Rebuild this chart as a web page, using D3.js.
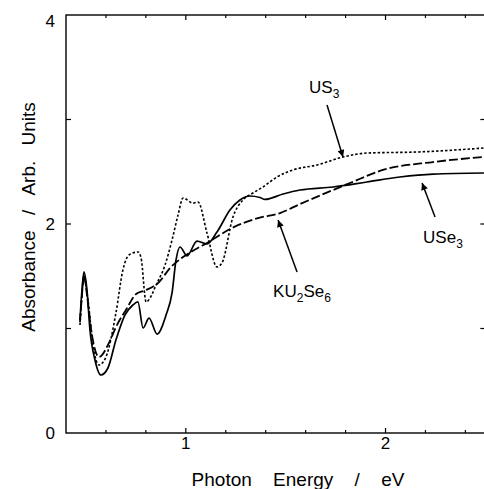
<!DOCTYPE html>
<html lang="en">
<head>
    <meta charset="UTF-8">
    <title>absorbance-spectra</title>
    <script src="https://cdn.jsdelivr.net/npm/d3@7/dist/d3.min.js"></script>
    <style>
        body{
            margin: 0;
            background: #fff;
        }
        svg text{
            font-family: "Liberation Sans", Arial, sans-serif;
            fill: #000;
        }
        .frame{
            fill: none;
            stroke: #000;
            stroke-width: 1.4;
        }
    </style>
</head>
<body>
<svg class="graph"></svg>
</body>
<script>
    var width = 484;
    var height = 489;

    // photon energy (eV) / absorbance pairs
    var use3_E = [0.470, 0.480, 0.490, 0.505, 0.520, 0.545, 0.575, 0.610, 0.650, 0.695, 0.735, 0.760, 0.786, 0.816,
        0.856, 0.901, 0.931, 0.951, 0.971, 1.006, 1.056, 1.106, 1.156, 1.221, 1.271, 1.321, 1.371, 1.396,
        1.487, 1.572, 1.737, 1.907, 2.072, 2.238, 2.493];
    var use3_A = [1.081, 1.368, 1.541, 1.368, 0.986, 0.699, 0.555, 0.622, 0.890, 1.129, 1.225, 1.254, 1.005, 1.100,
        0.947, 1.129, 1.340, 1.656, 1.780, 1.694, 1.837, 1.809, 1.923, 2.134, 2.230, 2.268, 2.254, 2.235,
        2.287, 2.325, 2.354, 2.402, 2.450, 2.478, 2.488];

    var ku2se6_E = [0.470, 0.480, 0.490, 0.505, 0.530, 0.565, 0.615, 0.650, 0.700, 0.751, 0.801, 0.866, 0.921,
        0.986, 1.051, 1.106, 1.221, 1.361, 1.472, 1.572, 1.737, 1.822, 1.987, 2.238, 2.493];
    var ku2se6_A = [1.062, 1.321, 1.512, 1.321, 0.938, 0.727, 0.861, 1.014, 1.177, 1.330, 1.368, 1.445, 1.579,
        1.684, 1.761, 1.818, 1.952, 2.057, 2.105, 2.191, 2.325, 2.392, 2.517, 2.593, 2.641];

    var us3_E = [0.470, 0.480, 0.490, 0.510, 0.535, 0.565, 0.600, 0.650, 0.685, 0.715, 0.761, 0.776, 0.801, 0.821,
        0.851, 0.896, 0.931, 0.961, 0.986, 1.036, 1.061, 1.106, 1.156, 1.181, 1.236, 1.286, 1.336, 1.386,
        1.457, 1.537, 1.657, 1.787, 1.907, 2.158, 2.493];
    var us3_A = [1.033, 1.321, 1.483, 1.273, 0.842, 0.651, 0.727, 1.148, 1.560, 1.703, 1.732, 1.675, 1.254, 1.292,
        1.416, 1.608, 1.847, 2.086, 2.249, 2.200, 2.211, 1.914, 1.589, 1.627, 2.067, 2.230, 2.297, 2.354,
        2.450, 2.517, 2.565, 2.641, 2.679, 2.689, 2.727];

    var xTickLabels = [1, 2];
    var yTickLabels = [0, 2, 4];

    // labels: name, subscript, text start, arrow from -> arrow tip (data coords)
    var labels = [
        {name: 'US', sub: '3', E: 1.617, A: 3.254, fromE: 1.707, fromA: 3.139, toE: 1.787, toA: 2.641},
        {name: 'USe', sub: '3', E: 2.188, A: 1.818, fromE: 2.248, fromA: 2.067, toE: 2.183, toA: 2.392},
        {name: 'KU', sub: '2', name2: 'Se', sub2: '6', E: 1.437, A: 1.301, fromE: 1.557, fromA: 1.541, toE: 1.462, toA: 2.038}
    ];

    var svg = d3.select('.graph')
        .attr('width', width)
        .attr('height', height);

    var x = d3.scaleLinear().domain([0.4, 2.5]).range([66, 66 + 2.1 * 199.7]);
    var y = d3.scaleLinear().domain([0, 4]).range([433, 15]);

    var x0 = x.range()[0], x1 = x.range()[1];
    var y0 = y.range()[0], y1 = y.range()[1];

    // ticks (inward)
    var minorX = d3.range(0.6, 2.5, 0.2).map(function (d) { return +d.toFixed(1); });
    var ticks = svg.append('g').attr('stroke', '#000').attr('stroke-width', 1.2);
    minorX.forEach(function (d) {
        var len = (Math.abs(d - Math.round(d)) < 1e-6) ? 5 : 3;
        ticks.append('line').attr('x1', x(d)).attr('x2', x(d)).attr('y1', y0).attr('y2', y0 - len);
        ticks.append('line').attr('x1', x(d)).attr('x2', x(d)).attr('y1', y1).attr('y2', y1 + len);
    });
    [1, 2, 3].forEach(function (d) {
        ticks.append('line').attr('x1', x0).attr('x2', x0 + 5).attr('y1', y(d)).attr('y2', y(d));
        ticks.append('line').attr('x1', x1).attr('x2', x1 - 5).attr('y1', y(d)).attr('y2', y(d));
    });

    svg.append('rect').attr('class', 'frame')
        .attr('x', x0).attr('y', y1)
        .attr('width', x1 - x0).attr('height', y0 - y1);

    // tick labels
    svg.append('g').selectAll('text')
        .data(xTickLabels).enter().append('text')
        .attr('x', function (d) { return x(d); })
        .attr('y', 449)
        .attr('text-anchor', 'middle')
        .style('font-size', '17px')
        .text(function (d) { return d; });

    svg.append('g').selectAll('text')
        .data(yTickLabels).enter().append('text')
        .attr('x', 55)
        .attr('y', function (d) { return y(d) + (d === 4 ? 12 : 6); })
        .attr('text-anchor', 'end')
        .style('font-size', '17px')
        .text(function (d) { return d; });

    // axis titles
    svg.append('text')
        .attr('x', 298).attr('y', 486)
        .attr('text-anchor', 'middle')
        .style('font-size', '19px')
        .style('word-spacing', '16px')
        .text('Photon Energy / eV');

    svg.append('text')
        .attr('transform', 'translate(35,217) rotate(-90)')
        .attr('text-anchor', 'middle')
        .style('font-size', '19px')
        .style('word-spacing', '10px')
        .text('Absorbance / Arb. Units');

    // spectra
    var line = d3.line()
        .x(function (d) { return x(d[0]); })
        .y(function (d) { return y(d[1]); })
        .curve(d3.curveMonotoneX);

    var series = [
        {E: use3_E, A: use3_A, dash: null, w: 1.7},
        {E: ku2se6_E, A: ku2se6_A, dash: '9,3', w: 1.8},
        {E: us3_E, A: us3_A, dash: '2.5,2', w: 1.6}
    ];

    svg.append('g').selectAll('path')
        .data(series).enter().append('path')
        .attr('fill', 'none')
        .attr('stroke', '#000')
        .attr('stroke-width', function (d) { return d.w; })
        .attr('stroke-dasharray', function (d) { return d.dash; })
        .attr('d', function (d) { return line(d3.zip(d.E, d.A)); });

    // arrows
    svg.append('defs').append('marker')
        .attr('id', 'head')
        .attr('viewBox', '0 0 10 10')
        .attr('refX', 10).attr('refY', 5)
        .attr('markerWidth', 10).attr('markerHeight', 7)
        .attr('markerUnits', 'userSpaceOnUse')
        .attr('orient', 'auto')
        .append('path')
        .attr('d', 'M0,0 L10,5 L0,10 Z')
        .attr('fill', '#000');

    svg.append('g').selectAll('line')
        .data(labels).enter().append('line')
        .attr('x1', function (d) { return x(d.fromE); })
        .attr('y1', function (d) { return y(d.fromA); })
        .attr('x2', function (d) { return x(d.toE); })
        .attr('y2', function (d) { return y(d.toA); })
        .attr('stroke', '#000')
        .attr('stroke-width', 1.5)
        .attr('marker-end', 'url(#head)');

    var lab = svg.append('g').selectAll('text')
        .data(labels).enter().append('text')
        .attr('x', function (d) { return x(d.E); })
        .attr('y', function (d) { return y(d.A); })
        .style('font-size', '17px');

    lab.each(function (d) {
        var t = d3.select(this);
        t.append('tspan').text(d.name);
        t.append('tspan').attr('dy', 5).style('font-size', '12px').text(d.sub);
        if (d.name2) {
            t.append('tspan').attr('dy', -5).text(d.name2);
            t.append('tspan').attr('dy', 5).style('font-size', '12px').text(d.sub2);
        }
    });
</script>
</html>
